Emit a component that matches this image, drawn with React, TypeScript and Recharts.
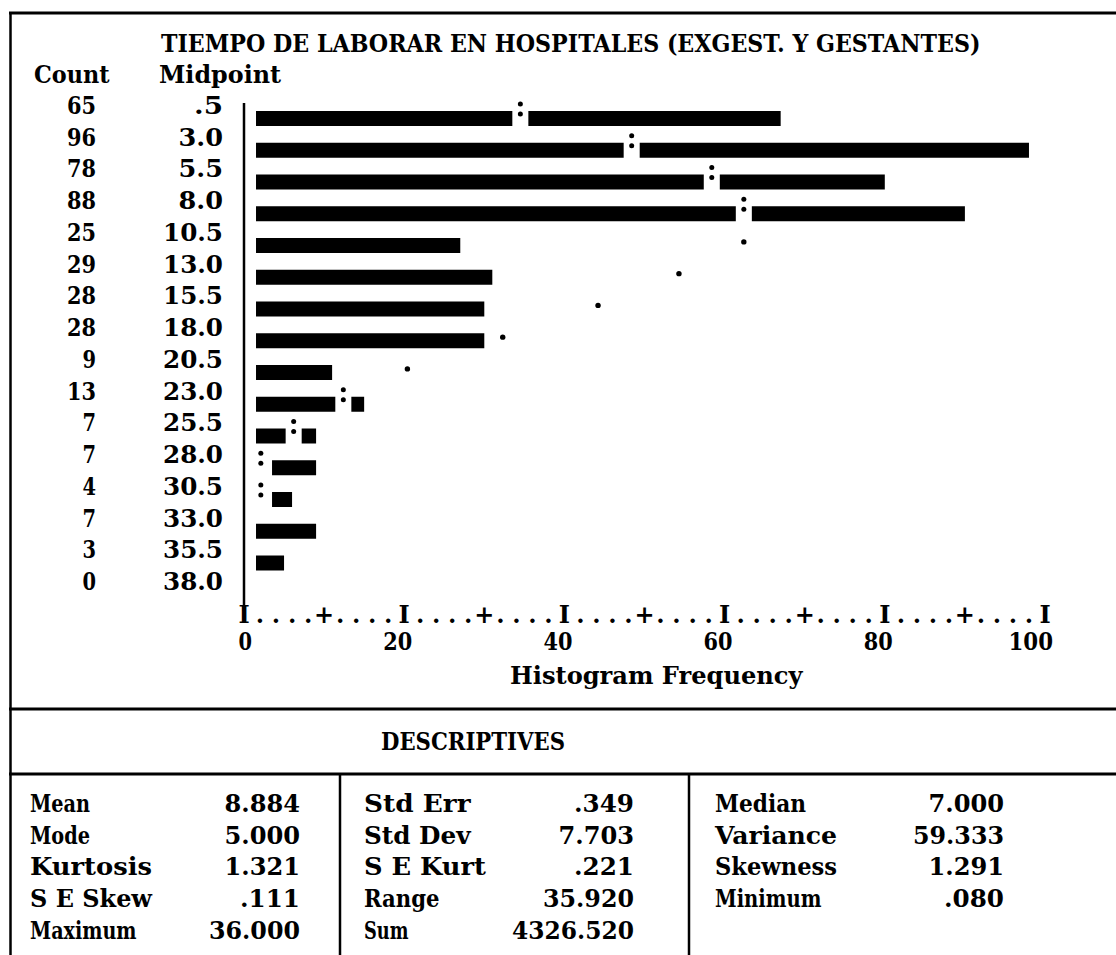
import React from "react";
import { ComposedChart, Bar, Line, XAxis, YAxis } from "recharts";

// histogram rows, top to bottom
const MIDPOINTS = [".5", "3.0", "5.5", "8.0", "10.5", "13.0", "15.5", "18.0", "20.5", "23.0", "25.5", "28.0", "30.5", "33.0", "35.5", "38.0"];
const COUNTS = [65, 96, 78, 88, 25, 29, 28, 28, 9, 13, 7, 7, 4, 7, 3, 0];
const NORMAL_CURVE = [34.5, 48.4, 58.4, 62.4, 62.4, 54.3, 44.2, 32.3, 20.4, 12.4, 6.2, 2.1, 2.1, null, null, null];

const LABELED_TICKS = [0, 20, 40, 60, 80, 100];
const HALF_TICKS = [10, 30, 50, 70, 90];

const TITLE = "TIEMPO DE LABORAR EN HOSPITALES (EXGEST. Y GESTANTES)";

const DESC_COL1 = [["Mean", "8.884"], ["Mode", "5.000"], ["Kurtosis", "1.321"], ["S E Skew", ".111"], ["Maximum", "36.000"]];
const DESC_COL2 = [["Std Err", ".349"], ["Std Dev", "7.703"], ["S E Kurt", ".221"], ["Range", "35.920"], ["Sum", "4326.520"]];
const DESC_COL3 = [["Median", "7.000"], ["Variance", "59.333"], ["Skewness", "1.291"], ["Minimum", ".080"]];

// old line-printer look: serif glyphs squeezed into fixed cells
const CELL = 15.5;
const txt: React.CSSProperties = {
  fontFamily: "'DejaVu Serif', 'Liberation Serif', serif",
  fontWeight: 700,
  fontSize: 24,
  fill: "#000",
};

function T({ x, y, end, children }: { x: number; y: number; end?: boolean; children: any }) {
  const s = String(children);
  return (
    <text
      x={x}
      y={y}
      textAnchor={end ? "end" : "start"}
      textLength={s.length * CELL - 2}
      lengthAdjust="spacingAndGlyphs"
      style={txt}
    >
      {s}
    </text>
  );
}

// bars start one character cell past the axis, and the curve mark eats a cell
const OFFSET = 1.5;
const END_PAD = 2;
const GAP = 2;

const rows = MIDPOINTS.map((mid, i) => {
  const count = COUNTS[i];
  const normal = NORMAL_CURVE[i];
  const end = count > 0 ? count + END_PAD : 0;
  const split = normal != null && count > 0 && normal < end;
  const gapStart = split ? Math.max(OFFSET, (normal as number) - GAP / 2) : 0;
  return {
    mid,
    count,
    normal,
    mark: normal == null ? "" : split ? ":" : ".",
    lead: count > 0 ? OFFSET : 0,
    left: split ? gapStart - OFFSET : Math.max(0, end - OFFSET),
    gap: split ? GAP : 0,
    right: split ? end - gapStart - GAP : 0,
  };
});

const axisSteps = Array.from({ length: 51 }, (_, i) => i * 2);

const RowTick = (props: any) => {
  const { y, payload } = props;
  const i = payload.index;
  return (
    <g>
      <T x={96} y={y - 5} end>
        {COUNTS[i]}
      </T>
      <T x={223} y={y - 5} end>
        {payload.value}
      </T>
    </g>
  );
};

const FreqTick = (props: any) => {
  const { x, y, payload } = props;
  const v = payload.value;
  const ch = LABELED_TICKS.includes(v) ? "I" : HALF_TICKS.includes(v) ? "+" : ".";
  return (
    <g>
      <text x={x} y={y + 12} textAnchor="middle" style={txt}>
        {ch}
      </text>
      {LABELED_TICKS.includes(v) && (
        <T x={x + 8} y={y + 39} end>
          {v}
        </T>
      )}
    </g>
  );
};

const renderMarker = (props: any) => {
  const { cx, cy, payload, index } = props;
  if (cx == null || cy == null || !payload || !payload.mark) return <g key={`m${index}`} />;
  if (payload.mark === ":") {
    return (
      <g key={`m${index}`}>
        <circle cx={cx} cy={cy - 15} r={2.5} fill="#000" />
        <circle cx={cx} cy={cy - 5} r={2.5} fill="#000" />
      </g>
    );
  }
  return <circle key={`m${index}`} cx={cx} cy={cy - 4} r={2.7} fill="#000" />;
};

function DescCol({ items, labelX, valueX }: { items: string[][]; labelX: number; valueX: number }) {
  return (
    <>
      {items.map(([label, value], i) => (
        <g key={label}>
          <T x={labelX} y={812 + i * 31.7}>
            {label}
          </T>
          <T x={valueX} y={812 + i * 31.7} end>
            {value}
          </T>
        </g>
      ))}
    </>
  );
}

export default function App() {
  return (
    <div style={{ position: "absolute", left: 0, top: 0, width: 1116, height: 955, background: "#fff" }}>
      <svg width={1116} height={955} style={{ position: "absolute", left: 0, top: 0 }}>
        <line x1={10.5} y1={12} x2={10.5} y2={955} stroke="#000" strokeWidth={2.5} />
        <line x1={9} y1={13} x2={1116} y2={13} stroke="#000" strokeWidth={3} />
        <line x1={9} y1={709} x2={1116} y2={709} stroke="#000" strokeWidth={3} />
        <line x1={9} y1={774} x2={1116} y2={774} stroke="#000" strokeWidth={3} />
        <line x1={340} y1={774} x2={340} y2={955} stroke="#000" strokeWidth={2.5} />
        <line x1={689} y1={774} x2={689} y2={955} stroke="#000" strokeWidth={2.5} />

        <T x={161} y={52}>{TITLE}</T>
        <T x={34} y={83}>Count</T>
        <T x={159} y={83}>Midpoint</T>
        <T x={510} y={684}>Histogram Frequency</T>

        <T x={381} y={750}>DESCRIPTIVES</T>
        <DescCol items={DESC_COL1} labelX={30} valueX={300} />
        <DescCol items={DESC_COL2} labelX={364} valueX={634} />
        <DescCol items={DESC_COL3} labelX={715} valueX={1004} />
      </svg>

      <div style={{ position: "absolute", left: 0, top: 0 }}>
        <ComposedChart
          width={1116}
          height={700}
          layout="vertical"
          data={rows}
          margin={{ top: 103, right: 71, bottom: 29, left: 0 }}
          barCategoryGap={0}
        >
          <XAxis
            type="number"
            domain={[0, 100]}
            ticks={axisSteps}
            interval={0}
            axisLine={false}
            tickLine={false}
            tickSize={0}
            tickMargin={0}
            height={60}
            tick={<FreqTick />}
          />
          <YAxis
            type="category"
            dataKey="mid"
            width={244}
            interval={0}
            axisLine={{ stroke: "#000", strokeWidth: 2.5 }}
            tickLine={false}
            tick={<RowTick />}
          />
          <Bar dataKey="lead" stackId="h" fill="transparent" barSize={15} isAnimationActive={false} />
          <Bar dataKey="left" stackId="h" fill="#000" barSize={15} isAnimationActive={false} />
          <Bar dataKey="gap" stackId="h" fill="transparent" barSize={15} isAnimationActive={false} />
          <Bar dataKey="right" stackId="h" fill="#000" barSize={15} isAnimationActive={false} />
          <Line
            dataKey="normal"
            stroke="none"
            dot={renderMarker}
            activeDot={false}
            isAnimationActive={false}
          />
        </ComposedChart>
      </div>
    </div>
  );
}
